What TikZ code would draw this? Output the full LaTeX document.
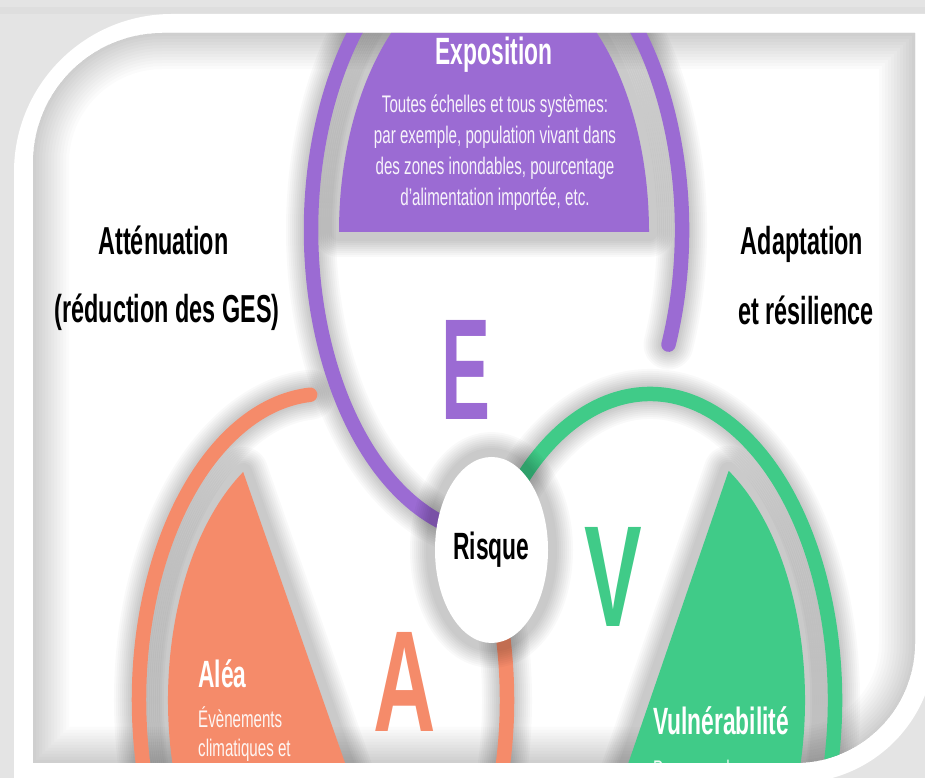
\documentclass[tikz,border=0pt]{standalone}
\usepackage{fontspec}
\usepackage{graphicx}
\usetikzlibrary{shapes.geometric}
\setmainfont{Liberation Sans}
\newfontfamily\condb[FakeStretch=0.6]{Liberation Sans}
\newfontfamily\condr[FakeStretch=0.63]{Liberation Sans}
\definecolor{purp}{HTML}{9B6BD3}
\definecolor{oran}{HTML}{F58B6A}
\definecolor{gree}{HTML}{40CB88}
\definecolor{bggray}{HTML}{E4E4E4}
\tikzset{
  ring/.style={line width=14.5pt, line cap=round},
  title/.style={anchor=base, inner sep=0pt, font=\condb\bfseries\fontsize{38}{38}\selectfont},
  side/.style={anchor=base, inner sep=0pt, text=black, font=\condb\bfseries\fontsize{39}{39}\selectfont},
  body/.style={anchor=base, inner sep=0pt, font=\condr\fontsize{24}{24}\selectfont},
  bodyl/.style={body, anchor=base west},
  bigl/.style={anchor=base, inner sep=0pt, font=\condb\bfseries\fontsize{144}{144}\selectfont},
}
\def\innerpath{(33,15) -- (33,615) arc[start angle=180,end angle=90,radius=130] -- (915,745) -- (915,135) arc[start angle=0,end angle=-90,radius=120] -- cycle}
\def\ringP{(-22:185.5 and 306) arc[start angle=-22,end angle=270,x radius=185.5,y radius=306]}
\def\ringA{(94:184 and 306) arc[start angle=94,end angle=390,x radius=184,y radius=306]}
\def\ringV{(150:185 and 306) arc[start angle=150,end angle=-145,x radius=185,y radius=306]}
\def\fillE{(0:155 and 266) arc[start angle=0,end angle=180,x radius=155,y radius=266] -- cycle}
\def\fillA{(121:155 and 266) arc[start angle=121,end angle=301,x radius=155,y radius=266] -- cycle}
\def\fillV{(59.5:155 and 266) arc[start angle=59.5,end angle=-120.5,x radius=155,y radius=266] -- cycle}
\newcommand\shd[1]{\foreach \w in {50,46,42,38,34,30,26,22,18}{\draw[black,opacity=0.022,line width=\w pt,line cap=round,line join=round] #1;}}
\begin{document}
\begin{tikzpicture}[x=1pt,y=1pt]
\useasboundingbox (0,0) rectangle (925,778);
\clip (0,0) rectangle (925,778);
% outer background
\fill[bggray] (0,0) rectangle (925,778);
\fill[black!13] (0,764) rectangle (925,771);
% white frame
\fill[white] (14,-10) -- (14,606) arc[start angle=180,end angle=90,radius=158] -- (935,764) -- (935,135) arc[start angle=0,end angle=-90,radius=140] -- (14,-5) -- cycle;
\begin{scope}
\clip \innerpath;
\fill[white] (0,0) rectangle (925,778);
% inner vignette
\foreach \w in {72,66,60,54,48,42,36,30,24,18,12,6}{\draw[black,opacity=0.016,line width=\w pt] \innerpath;}
% shadows of rings and fills
\begin{scope}[shift={(496.5,548)}] \shd{\ringP} \end{scope}
\begin{scope}[shift={(323,78)}] \shd{\ringA} \end{scope}
\begin{scope}[shift={(650,78)}] \shd{\ringV} \end{scope}
\begin{scope}[shift={(494,546)}] \shd{\fillE} \end{scope}
\begin{scope}[shift={(323,78)}] \shd{\fillA} \end{scope}
\begin{scope}[shift={(650,78)}] \shd{\fillV} \end{scope}
% fills
\begin{scope}[shift={(494,546)}] \fill[purp] \fillE; \end{scope}
\begin{scope}[shift={(323,78)}] \fill[oran] \fillA; \end{scope}
\begin{scope}[shift={(650,78)}] \fill[gree] \fillV; \end{scope}
% rings
\begin{scope}[shift={(496.5,548)}] \draw[ring,purp] \ringP; \end{scope}
\begin{scope}[shift={(323,78)}] \draw[ring,oran] \ringA; \end{scope}
\begin{scope}[shift={(650,78)}] \draw[ring,gree] \ringV; \end{scope}
% Risque
\shd{(491.5,228) ellipse[x radius=56.5,y radius=93]}
\node[ellipse, fill=white, minimum width=113pt, minimum height=186pt, inner sep=0pt,
      text height=27pt, text depth=7pt, font=\condb\bfseries\fontsize{38}{38}\selectfont] (risque) at (491.5,228) {Risque};
% big letters
\node[bigl, text=purp] (bigE) at (466,358) {\scalebox{0.85}[1]{E}};
\node[bigl, text=oran] (bigA) at (405,46) {A};
\node[bigl, text=gree] (bigV) at (613.5,151) {V};
% Exposition texts
\node[title, text=white] (expo) at (494,713) {Exposition};
\node[body, text=white!92!purp] (e1) at (495,665) {Toutes échelles et tous systèmes:};
\node[body, text=white!92!purp] (e2) at (495,634) {par exemple, population vivant dans};
\node[body, text=white!92!purp] (e3) at (495,603) {des zones inondables, pourcentage};
\node[body, text=white!92!purp] (e4) at (495,572) {d’alimentation importée, etc.};
% Alea texts
\node[title, anchor=base west, text=white] (alea) at (198,90) {Aléa};
\node[bodyl, text=white!92!oran] (a1) at (198,50) {Évènements};
\node[bodyl, text=white!92!oran] (a2) at (198,21) {climatiques et};
% Vulnerabilite texts
\node[title, anchor=base west, text=white] (vuln) at (653,43) {Vulnérabilité};
\node[bodyl, text=white!92!gree] (v1) at (653,1) {Par exemple,};
% side texts
\node[side] (att1) at (163.5,523) {Atténuation};
\node[side] (att2) at (167,455) {(réduction des GES)};
\node[side] (ada1) at (802,523) {Adaptation};
\node[side] (ada2) at (806,453) {et résilience};
\end{scope}
\end{tikzpicture}
\end{document}
